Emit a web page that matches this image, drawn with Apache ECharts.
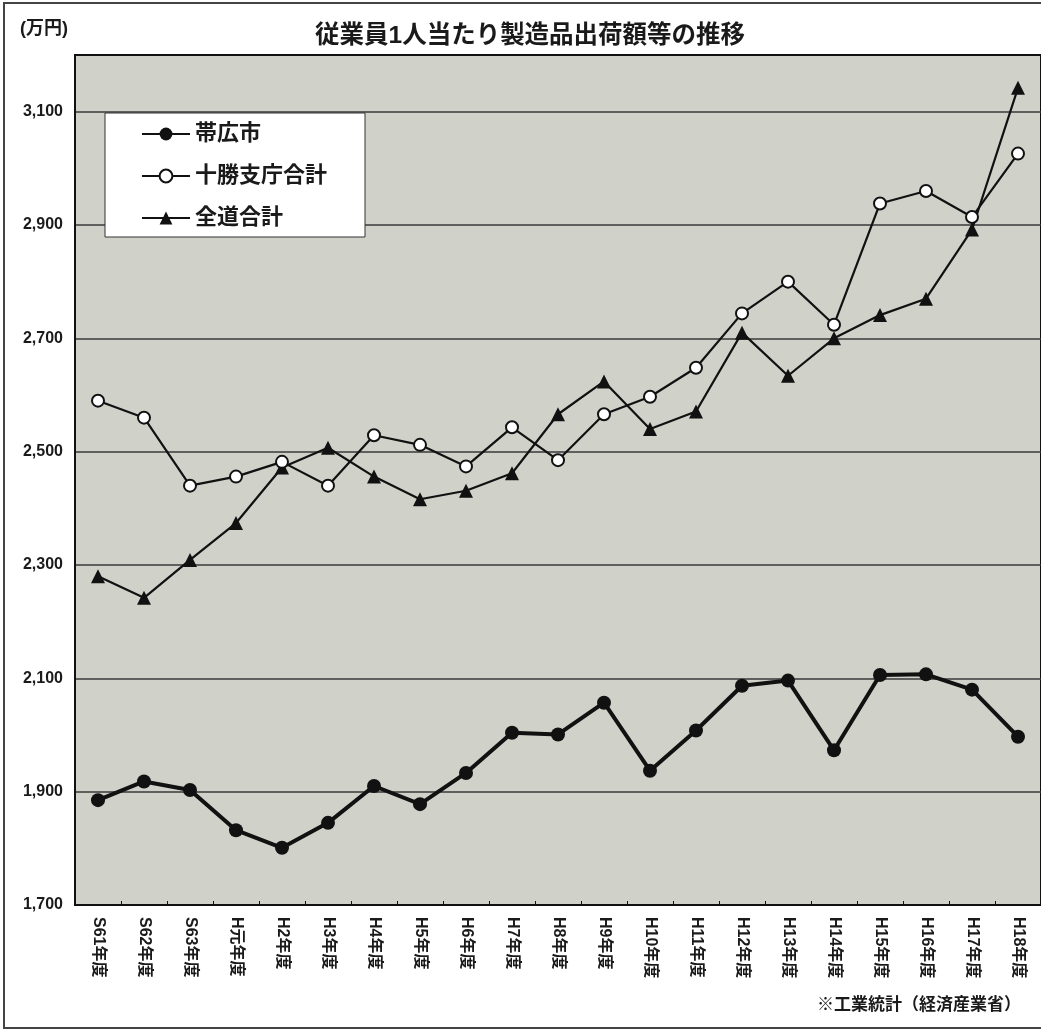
<!DOCTYPE html>
<html>
<head>
<meta charset="utf-8">
<script src="https://cdn.jsdelivr.net/npm/echarts@6/dist/echarts.min.js"></script>
<style>
html,body{margin:0;padding:0;background:#fff;}
#chart{width:1041px;height:1030px;}
</style>
</head>
<body>
<div id="chart"></div>
<script>
const categories = ['S61年度','S62年度','S63年度','H元年度','H2年度','H3年度','H4年度','H5年度','H6年度','H7年度','H8年度','H9年度','H10年度','H11年度','H12年度','H13年度','H14年度','H15年度','H16年度','H17年度','H18年度'];
const obihiro = [1885,1918,1903,1832,1801,1845,1910,1878,1933,2004,2001,2057,1937,2008,2087,2096,1973,2106,2107,2080,1997];
const tokachi = [2590,2560,2440,2456,2482,2440,2529,2512,2474,2543,2485,2566,2597,2648,2744,2800,2724,2938,2960,2914,3026];
const zendo = [2280,2242,2309,2374,2472,2507,2456,2416,2431,2462,2566,2624,2540,2571,2710,2634,2700,2741,2770,2892,3142];
const yTicks = [1700,1900,2100,2300,2500,2700,2900,3100];
const seriesNames = ['帯広市','十勝支庁合計','全道合計'];
const titleText = '従業員1人当たり製造品出荷額等の推移';
const unitText = '(万円)';
const sourceText = '※工業統計（経済産業省）';

const FONT = '"Liberation Sans", "Noto Sans CJK JP", sans-serif';
const chart = echarts.init(document.getElementById('chart'), null, {renderer:'canvas'});
chart.setOption({
  backgroundColor: '#ffffff',
  animation: false,
  title: {
    text: titleText,
    left: 310, top: 19,
    textStyle: {fontFamily: FONT, fontSize: 24.5, fontWeight: 'bold', color: '#1a1a1a'}
  },
  graphic: [
    {type:'rect', shape:{x:4, y:3, width:1100, height:1025}, style:{fill:'none', stroke:'#444', lineWidth:2}, z:-1},
    {type:'text', left:20, top:20, style:{text:unitText, font:'bold 18px ' + FONT, fill:'#1a1a1a'}},
    {type:'text', right:20, top:997, style:{text:sourceText, font:'bold 17px ' + FONT, fill:'#1a1a1a'}}
  ],
  legend: {
    orient: 'vertical',
    left: 105, top: 113,
    backgroundColor: '#ffffff',
    borderColor: '#333', borderWidth: 1,
    padding: [10, 38, 8, 36],
    itemWidth: 48, itemHeight: 16, itemGap: 20,
    textStyle: {fontFamily: FONT, fontSize: 22, fontWeight: 'bold', color: '#1a1a1a'},
    data: seriesNames
  },
  grid: {
    left: 75, top: 55, right: -6, bottom: 125,
    show: true, backgroundColor: '#d0d2ca', borderColor: '#111', borderWidth: 2,
    containLabel: false
  },
  xAxis: {
    type: 'category',
    data: categories,
    boundaryGap: true,
    axisLine: {lineStyle: {color: '#111', width: 2}},
    axisTick: {show: true, inside: true, length: 4, lineStyle: {color: '#111'}},
    axisLabel: {interval: 0, rotate: -90, margin: 12, fontFamily: FONT, fontSize: 16, fontWeight: 'bold', color: '#1a1a1a'}
  },
  yAxis: {
    type: 'value',
    min: 1700, max: 3200, interval: 100,
    axisLine: {show: true, lineStyle: {color: '#111', width: 2}},
    axisTick: {show: false},
    axisLabel: {
      margin: 12, fontFamily: FONT, fontSize: 16, fontWeight: 'bold', color: '#1a1a1a',
      formatter: v => yTicks.includes(v) ? v.toLocaleString('en-US') : ''
    },
    splitLine: {show: true, lineStyle: {color: ['#3a3a3a', 'rgba(0,0,0,0)'], width: 1.5}}
  },
  series: [
    {
      name: seriesNames[0], type: 'line', data: obihiro,
      symbol: 'circle', symbolSize: 14,
      lineStyle: {color: '#111', width: 4},
      itemStyle: {color: '#111', borderColor: '#111', borderWidth: 0},
      z: 3
    },
    {
      name: seriesNames[1], type: 'line', data: tokachi,
      symbol: 'circle', symbolSize: 12,
      lineStyle: {color: '#111', width: 2.2},
      itemStyle: {color: '#ffffff', borderColor: '#111', borderWidth: 2},
      z: 4
    },
    {
      name: seriesNames[2], type: 'line', data: zendo,
      symbol: 'triangle', symbolSize: 14,
      lineStyle: {color: '#111', width: 2.2},
      itemStyle: {color: '#111', borderColor: '#111', borderWidth: 0},
      z: 3
    }
  ]
});
</script>
</body>
</html>
